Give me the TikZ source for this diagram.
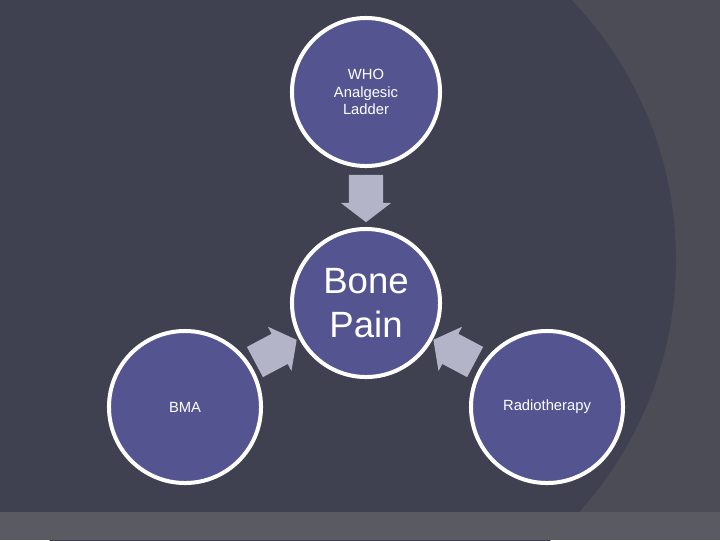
\documentclass[tikz,border=0pt]{standalone}
\usepackage{fontspec}
\setmainfont{Liberation Sans}
\usetikzlibrary{shapes.arrows}
\definecolor{bgdark}{HTML}{3F4150}
\definecolor{bgmid}{HTML}{4B4C56}
\definecolor{bglight}{HTML}{5A5B62}
\definecolor{disc}{HTML}{545590}
\definecolor{arrowgrey}{HTML}{B4B4C8}
\tikzset{
  topic/.style={circle, draw=white, line width=0.1cm, fill=disc, minimum size=3.7cm,
    text=white, align=center, inner sep=0pt},
  push/.style={single arrow, fill=arrowgrey, draw=none, minimum height=0.85cm,
    minimum width=1.25cm, single arrow head extend=0.2cm, inner sep=0.42cm,
    single arrow tip angle=105}
}
\begin{document}
\begin{tikzpicture}[x=0.025cm,y=-0.025cm]
            % backdrop
            \useasboundingbox (0,0) rectangle (720,540);
            \fill [bgmid] (0,0) rectangle (720,540);
            \fill [bgdark] (300,260) circle (376);
            \fill [bgdark] (0,0) rectangle (300,540);
            \fill [bglight] (0,512) rectangle (720,540);

            % discs
            \node [topic, font=\fontsize{10.5}{12.5}\selectfont] (who) at (366,92) {WHO\\Analgesic\\Ladder};
            \node [topic, font=\fontsize{26}{31}\selectfont] (pain) at (366,303) {Bone\\Pain};
            \node [topic, minimum size=3.8cm, font=\fontsize{10.5}{12.5}\selectfont] (bma) at (185,407) {BMA};
            \node [topic, minimum size=3.8cm, font=\fontsize{10.5}{12.5}\selectfont] (radio) at (547,407) {Radiotherapy};

            % arrows
            \node [push, rotate=-90] (down) at (366,192) {};
            \node [push, rotate=28] (left) at (270,354) {};
            \node [push, rotate=152] (right) at (460,354) {};
\end{tikzpicture}
\end{document}
